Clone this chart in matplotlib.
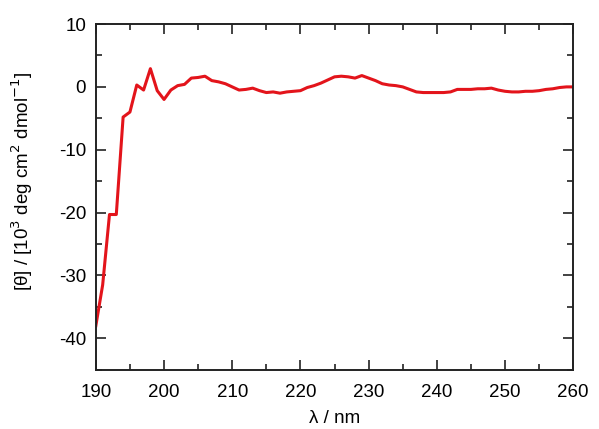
import numpy as np
import matplotlib.pyplot as plt
from matplotlib.ticker import MultipleLocator

plt.rcParams['font.family'] = ['Liberation Sans', 'DejaVu Sans']
plt.rcParams['axes.unicode_minus'] = False

wavelength = np.arange(190, 261)
theta = [
    -38.0, -31.5, -20.3, -20.3, -4.8, -4.0, 0.3, -0.5, 2.9, -0.6,
    -2.0, -0.5, 0.2, 0.4, 1.4, 1.5, 1.7, 1.0, 0.8, 0.5,
    0.0, -0.5, -0.4, -0.2, -0.6, -0.9, -0.8, -1.0, -0.8, -0.7,
    -0.6, -0.1, 0.2, 0.6, 1.1, 1.6, 1.7, 1.6, 1.4, 1.8,
    1.4, 1.0, 0.5, 0.3, 0.2, 0.0, -0.4, -0.8, -0.9, -0.9,
    -0.9, -0.9, -0.8, -0.4, -0.4, -0.4, -0.3, -0.3, -0.2, -0.5,
    -0.7, -0.8, -0.8, -0.7, -0.7, -0.6, -0.4, -0.3, -0.1, 0.0,
    0.0,
]

fig = plt.figure(figsize=(5.99, 4.29), dpi=100)
ax = fig.add_axes([0.160, 0.138, 0.797, 0.806])

ax.plot(wavelength, theta, color='#e3141b', lw=2.2)

ax.set_xlim(190, 260)
ax.set_ylim(-45, 10)
ax.xaxis.set_major_locator(MultipleLocator(10))
ax.xaxis.set_minor_locator(MultipleLocator(5))
ax.yaxis.set_major_locator(MultipleLocator(10))
ax.yaxis.set_minor_locator(MultipleLocator(5))
ax.tick_params(which='both', direction='in', top=True, right=True,
               width=1.2, labelsize=13.5, color='#222222')
ax.tick_params(which='major', length=7, pad=7)
ax.tick_params(axis='x', which='major', pad=10)
ax.tick_params(which='minor', length=4)
for s in ax.spines.values():
    s.set_linewidth(1.4)
    s.set_color('#222222')

ax.set_xlabel('λ / nm', fontsize=13.5, labelpad=7)
ax.set_ylabel(r'[θ] / [10$^3$ deg cm$^2$ dmol$^{-1}$]', fontsize=13.5)
ax.yaxis.set_label_coords(-0.128, 0.545)

fig.savefig('out.png', dpi=100)
